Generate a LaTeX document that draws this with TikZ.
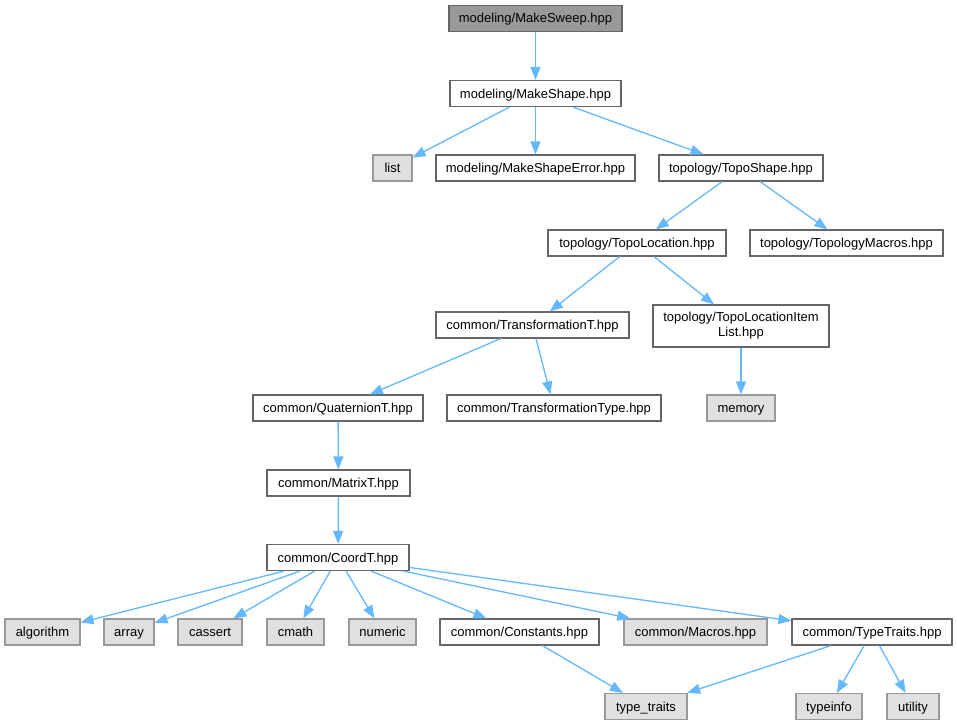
\documentclass[tikz,border=0pt]{standalone}
\usepackage{fontspec}
\setmainfont{Liberation Sans}
\usepackage{xcolor}
\usetikzlibrary{arrows.meta}
\usetikzlibrary{positioning}
\definecolor{edgeblue}{HTML}{63B8FF}
\definecolor{boxgray}{HTML}{666666}
\definecolor{sysgray}{HTML}{999999}
\definecolor{sysfill}{HTML}{E0E0E0}
\tikzset{
header/.style={draw=boxgray, fill=white, line width=1.2pt, minimum height=26pt, inner sep=2pt,
	text height=10.5pt, text depth=1.5pt,
	font=\fontsize{13}{15}\selectfont, minimum width=#1},
header/.default={20pt},
sysheader/.style={header=#1, draw=sysgray, fill=sysfill},
rootheader/.style={header=#1, fill=sysgray},
incl/.style={draw=edgeblue, line width=1.3pt, -{Triangle[length=13pt,width=10pt]}},
}

\begin{document}
\begin{tikzpicture}[x=1pt, y=-1pt]
\useasboundingbox (0,0) rectangle (957,725);
%Place the nodes
\node[rootheader=173pt] (sweep) at (535.5,18.5) {modeling/MakeSweep.hpp};
\node[header=171pt] (shape) at (535.5,93.5) {modeling/MakeShape.hpp};
\node[sysheader=39pt] (list) at (392.5,168) {list};
\node[header=199pt] (shapeerr) at (535.5,168) {modeling/MakeShapeError.hpp};
\node[header=164pt] (toposhape) at (741,168) {topology/TopoShape.hpp};
\node[header=178pt] (topoloc) at (637,243) {topology/TopoLocation.hpp};
\node[header=193pt] (topomacros) at (846.5,243) {topology/TopologyMacros.hpp};
\node[header=193pt] (transf) at (532.5,325) {common/TransformationT.hpp};
\node[header=176pt, minimum height=42pt, text height=, text depth=, align=center] (itemlist) at (741,326) {topology/TopoLocationItem\\List.hpp};
\node[sysheader=68pt] (memory) at (741,408) {memory};
\node[header=170pt] (quat) at (338,408) {common/QuaternionT.hpp};
\node[header=214pt] (transftype) at (554,408) {common/TransformationType.hpp};
\node[header=143pt] (matrix) at (338.5,483) {common/MatrixT.hpp};
\node[header=142pt] (coord) at (338,557.5) {common/CoordT.hpp};

\node[sysheader=75pt] (algorithm) at (42.5,632) {algorithm};
\node[sysheader=50pt] (array) at (129,632) {array};
\node[sysheader=64pt] (cassert) at (210,632) {cassert};
\node[sysheader=57pt] (cmath) at (295.5,632) {cmath};
\node[sysheader=67pt] (numeric) at (382.5,632) {numeric};
\node[header=159pt] (constants) at (519.5,632) {common/Constants.hpp};
\node[sysheader=143pt] (macros) at (695.5,632) {common/Macros.hpp};
\node[header=160pt] (typetraits) at (872,632) {common/TypeTraits.hpp};

\node[sysheader=82pt] (stdtraits) at (646,706.5) {type\_traits};
\node[sysheader=66pt] (typeinfo) at (829,706.5) {typeinfo};
\node[sysheader=52pt] (utility) at (913,706.5) {utility};

%
\draw[incl] (sweep) to (shape);
\draw[incl] (shape) to (list);
\draw[incl] (shape) to (shapeerr);
\draw[incl] (shape) to (toposhape);

%
\draw[incl] (toposhape) to (topoloc);
\draw[incl] (toposhape) to (topomacros);
\draw[incl] (topoloc) to (transf);
\draw[incl] (topoloc) to (itemlist);
\draw[incl] (itemlist) to (memory);

%
\draw[incl] (transf) to (quat);
\draw[incl] (transf) to (transftype);
\draw[incl] (quat) to (matrix);
\draw[incl] (matrix) to (coord);

%
\foreach \h in {algorithm, array, cassert, cmath, numeric, constants, macros, typetraits} {
	\draw[incl] (coord) to (\h);
}

%
\draw[incl] (constants) to (stdtraits);
\draw[incl] (typetraits) to (stdtraits);
\draw[incl] (typetraits) to (typeinfo);
\draw[incl] (typetraits) to (utility);

\end{tikzpicture}
\end{document}
